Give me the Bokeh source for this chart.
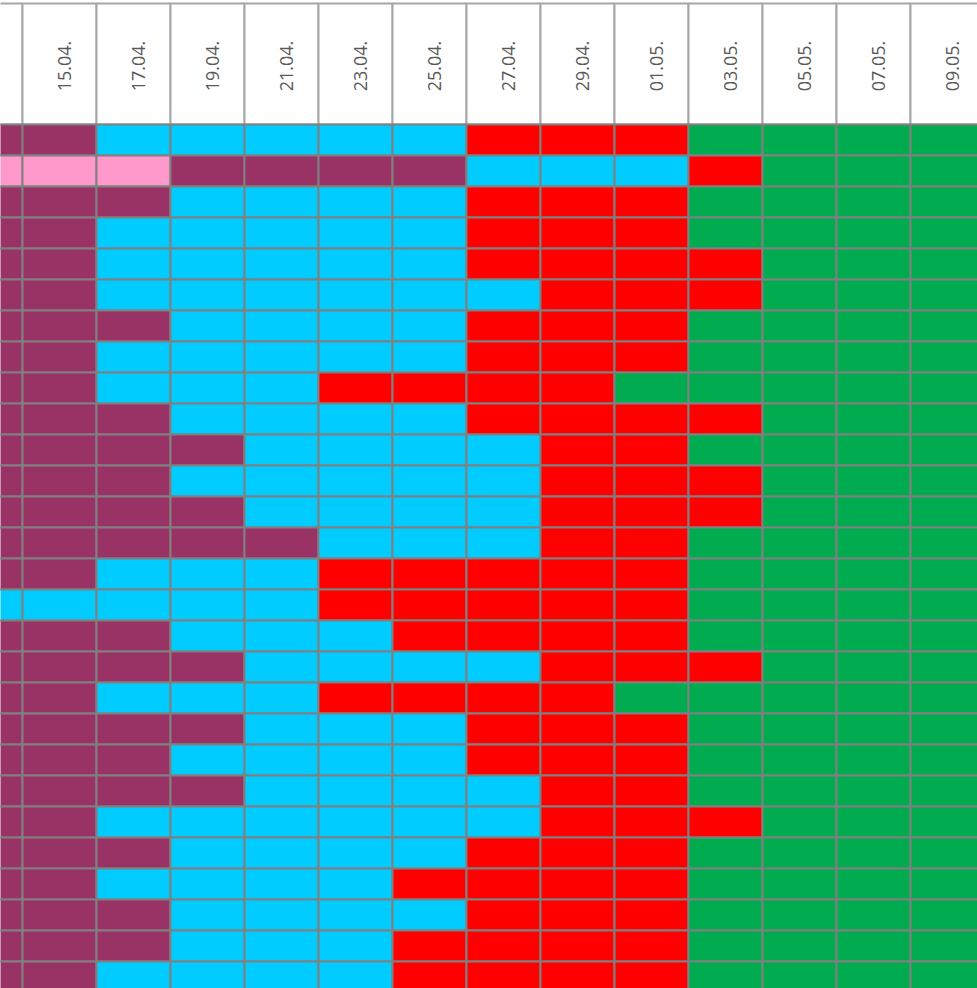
from bokeh.plotting import figure
from bokeh.models import ColumnDataSource, Range1d
from bokeh.core.properties import value
from bokeh.embed import file_html
from bokeh.resources import INLINE

# ---- data -------------------------------------------------------------
dates = ["13.04.", "15.04.", "17.04.", "19.04.", "21.04.", "23.04.", "25.04.",
         "27.04.", "29.04.", "01.05.", "03.05.", "05.05.", "07.05.", "09.05."]

# one string per row, one code per date column
row_states = [
    "MMBBBBBRRRGGGG",
    "PPPMMMMBBBRGGG",
    "MMMBBBBRRRGGGG",
    "MMBBBBBRRRGGGG",
    "MMBBBBBRRRRGGG",
    "MMBBBBBBRRRGGG",
    "MMMBBBBRRRGGGG",
    "MMBBBBBRRRGGGG",
    "MMBBBRRRRGGGGG",
    "MMMBBBBRRRRGGG",
    "MMMMBBBBRRGGGG",
    "MMMBBBBBRRRGGG",
    "MMMMBBBBRRRGGG",
    "MMMMMBBBRRGGGG",
    "MMBBBRRRRRGGGG",
    "BBBBBRRRRRGGGG",
    "MMMBBBRRRRGGGG",
    "MMMMBBBBRRRGGG",
    "MMBBBRRRRGGGGG",
    "MMMMBBBRRRGGGG",
    "MMMBBBBRRRGGGG",
    "MMMMBBBBRRGGGG",
    "MMBBBBBBRRRGGG",
    "MMMBBBBRRRGGGG",
    "MMBBBBRRRRGGGG",
    "MMMBBBBRRRGGGG",
    "MMMBBBRRRRGGGG",
    "MMBBBBRRRRGGGG",
]

state_colors = {
    "P": "#FF99CC",
    "M": "#993366",
    "B": "#00CCFF",
    "R": "#FF0000",
    "G": "#00AC4F",
}

# ---- build sources ----------------------------------------------------
cx, cy, cc = [], [], []
for r, states in enumerate(row_states):
    for c, s in enumerate(states):
        cx.append(c)
        cy.append(r)
        cc.append(state_colors[s])
cells = ColumnDataSource(dict(x=cx, y=cy, color=cc))

# geometry (pixels per unit)
COL_PX = 74.0
ROW_PX = 31.0
HEADER_PX = 121.0
W, H = 977, 988

x_start = 52.0 / COL_PX - 0.5
x_end = x_start + W / COL_PX
y_top = -124.0 / ROW_PX - 0.5
y_bottom = y_top + H / ROW_PX

header_h = HEADER_PX / ROW_PX
header_cy = -0.5 - header_h / 2.0
hx = list(range(len(dates)))
header = ColumnDataSource(dict(x=hx, y=[header_cy] * len(dates)))

# labels only for columns whose centre lies inside the visible range
lab_idx = [i for i in hx if i > x_start + 0.3 and i < x_end - 0.2]
labels = ColumnDataSource(dict(
    x=lab_idx,
    y=[header_cy] * len(lab_idx),
    label=[dates[i] for i in lab_idx],
))

p = figure(width=W, height=H, output_backend="svg", toolbar_location=None,
           x_range=Range1d(x_start, x_end),
           y_range=Range1d(y_bottom, y_top),
           min_border=0)
p.axis.visible = False
p.grid.visible = False
p.outline_line_color = None
p.background_fill_color = "white"
p.border_fill_color = "white"

p.rect(x="x", y="y", width=1, height=header_h, source=header,
       fill_color="white", line_color="#A6A6A6", line_width=2)
p.rect(x="x", y="y", width=1, height=1, source=cells,
       fill_color="color", line_color="#808080", line_width=2)

p.text(x="x", y="y", text="label", source=labels, angle=1.5708,
       text_align="center", text_baseline="middle", x_offset=5, y_offset=2,
       text_font=value("Open Sans"), text_font_size="18px",
       text_color="#595959")

open("out.html", "w").write(file_html(p, INLINE))
